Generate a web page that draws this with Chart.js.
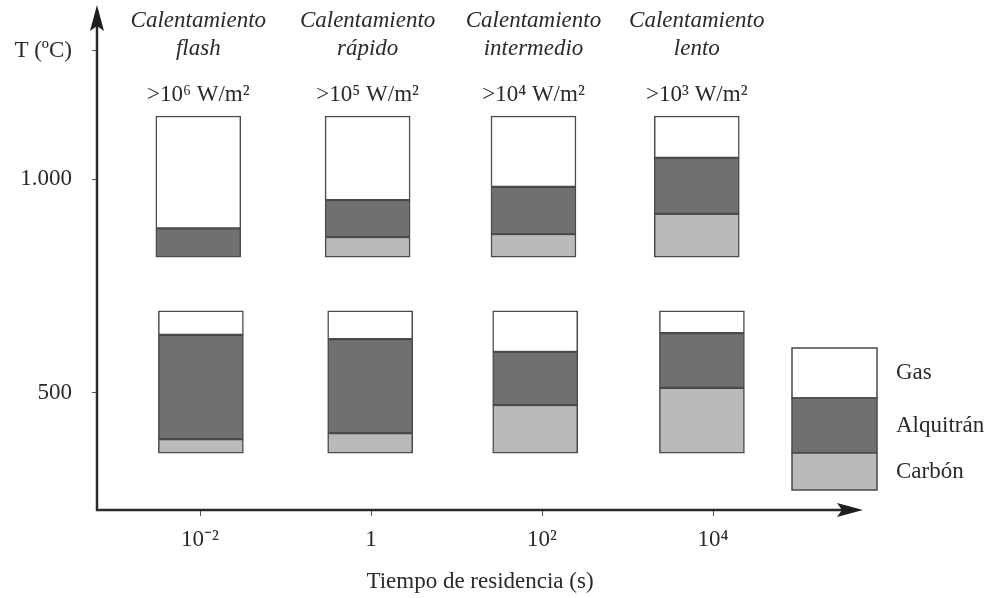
<!DOCTYPE html>
<html>
<head>
<meta charset="utf-8">
<script src="https://cdn.jsdelivr.net/npm/chart.js@4.4.1/dist/chart.umd.min.js"></script>
<style>
  html, body { margin: 0; padding: 0; background: #fff; }
  #wrap { width: 990px; height: 598px; }
</style>
</head>
<body>
<div id="wrap"><canvas id="grafico"></canvas></div>
<script>
// tipos de calentamiento (cabeceras de columna)
var tipos = ["flash", "rápido", "intermedio", "lento"];
var flujos = [">10⁶ W/m²", ">10⁵ W/m²", ">10⁴ W/m²", ">10³ W/m²"];

// eje x: log10 del tiempo de residencia (s)
var ticksX = [-2, 0, 2, 4];
var etiquetasX = ["10⁻²", "1", "10²", "10⁴"];
// eje y: temperatura
var ticksY = [500, 1000, 1300];
var etiquetasY = ["500", "1.000", "T (ºC)"];

// posición (log10 s) de cada columna
var posAlta = [-2.02, -0.04, 1.90, 3.81];
var posBaja = [-1.99, -0.01, 1.92, 3.87];

// límites en ºC de cada franja (base, tope carbón, tope alquitrán, tope gas)
var altaBase = [818, 818, 818, 818];
var altaCarbon = [818, 865, 872, 919];
var altaAlquitran = [885, 951, 982, 1050];
var altaGas = [1148, 1148, 1148, 1148];

var bajaBase = [359, 359, 359, 359];
var bajaCarbon = [392, 406, 472, 512];
var bajaAlquitran = [636, 626, 596, 640];
var bajaGas = [692, 692, 692, 692];

var colores = { gas: "#ffffff", alquitran: "#707070", carbon: "#bababa" };
var fuente = '"Liberation Serif", "Times New Roman", serif';
var texto = "#2a2a2a";

// arma los puntos flotantes [desde, hasta] de una franja
var franja = function(desdeA, hastaA, desdeB, hastaB) {
    var pts = [];
    for (var i = 0; i < posAlta.length; i++) pts.push({ x: posAlta[i], y: [desdeA[i], hastaA[i]] });
    for (var j = 0; j < posBaja.length; j++) pts.push({ x: posBaja[j], y: [desdeB[j], hastaB[j]] });
    return pts;
};

var estiloBarra = {
    grouped: false,
    barThickness: 85,
    borderWidth: 1.5,
    borderColor: "#4a4a4a",
    borderSkipped: false
};

var datos = {
    datasets: [
        Object.assign({ label: "Gas", backgroundColor: colores.gas,
            data: franja(altaAlquitran, altaGas, bajaAlquitran, bajaGas) }, estiloBarra),
        Object.assign({ label: "Alquitrán", backgroundColor: colores.alquitran,
            data: franja(altaCarbon, altaAlquitran, bajaCarbon, bajaAlquitran) }, estiloBarra),
        Object.assign({ label: "Carbón", backgroundColor: colores.carbon,
            data: franja(altaBase, altaCarbon, bajaBase, bajaCarbon) }, estiloBarra)
    ]
};

// ejes con flecha, cabeceras y leyenda en caja
var dibujoExtra = {
    id: "dibujoExtra",
    afterDraw: function(chart) {
        var ctx = chart.ctx, ca = chart.chartArea, sx = chart.scales.x;
        ctx.save();
        ctx.strokeStyle = "#2a2a2a";
        ctx.fillStyle = "#1e1e1e";
        ctx.lineWidth = 2.5;
        // eje y
        ctx.beginPath();
        ctx.moveTo(ca.left, ca.bottom + 1);
        ctx.lineTo(ca.left, 24);
        ctx.stroke();
        ctx.beginPath();
        ctx.moveTo(ca.left, 5);
        ctx.lineTo(ca.left - 7, 31);
        ctx.lineTo(ca.left, 26);
        ctx.lineTo(ca.left + 7, 31);
        ctx.closePath();
        ctx.fill();
        // eje x
        ctx.beginPath();
        ctx.moveTo(ca.left - 1, ca.bottom);
        ctx.lineTo(ca.right - 20, ca.bottom);
        ctx.stroke();
        ctx.beginPath();
        ctx.moveTo(ca.right, ca.bottom);
        ctx.lineTo(ca.right - 26, ca.bottom - 7);
        ctx.lineTo(ca.right - 21, ca.bottom);
        ctx.lineTo(ca.right - 26, ca.bottom + 7);
        ctx.closePath();
        ctx.fill();

        // cabeceras
        ctx.fillStyle = texto;
        ctx.textAlign = "center";
        ctx.textBaseline = "alphabetic";
        for (var i = 0; i < tipos.length; i++) {
            var cx = sx.getPixelForValue(posAlta[i]);
            ctx.font = "italic 23px " + fuente;
            ctx.fillText("Calentamiento", cx, 27);
            ctx.fillText(tipos[i], cx, 55);
            ctx.font = "23px " + fuente;
            ctx.fillText(flujos[i], cx, 101);
        }

        // leyenda
        var lx = 792, lw = 85;
        var filas = [
            { t: "Gas", c: colores.gas, y0: 348, y1: 398 },
            { t: "Alquitrán", c: colores.alquitran, y0: 398, y1: 453 },
            { t: "Carbón", c: colores.carbon, y0: 453, y1: 490 }
        ];
        ctx.lineWidth = 1.5;
        ctx.strokeStyle = "#4a4a4a";
        ctx.textAlign = "left";
        ctx.textBaseline = "middle";
        ctx.font = "23px " + fuente;
        filas.forEach(function(f) {
            ctx.fillStyle = f.c;
            ctx.fillRect(lx, f.y0, lw, f.y1 - f.y0);
            ctx.strokeRect(lx, f.y0, lw, f.y1 - f.y0);
            ctx.fillStyle = texto;
            ctx.fillText(f.t, 896, (f.y0 + f.y1) / 2);
        });
        ctx.restore();
    }
};

var grafico = new Chart(document.getElementById("grafico").getContext("2d"), {
    type: "bar",
    data: datos,
    options: {
        responsive: true,
        maintainAspectRatio: false,
        animation: false,
        layout: { padding: { top: 5, right: 127, left: 0, bottom: 0 } },
        plugins: { legend: { display: false }, tooltip: { enabled: false } },
        scales: {
            x: {
                type: "linear",
                min: -3.205,
                max: 5.754,
                offset: false,
                border: { display: false },
                grid: { offset: false, drawOnChartArea: false, drawTicks: true, tickLength: 6, color: "#555", lineWidth: 1 },
                afterBuildTicks: function(s) { s.ticks = ticksX.map(function(v) { return { value: v }; }); },
                afterFit: function(s) { s.height = 88; s.paddingLeft = 0; s.paddingRight = 0; },
                ticks: {
                    autoSkip: false, maxRotation: 0, padding: 10, color: texto,
                    font: { family: fuente, size: 23 },
                    callback: function(v, i) { return etiquetasX[i]; }
                },
                title: {
                    display: true, text: "Tiempo de residencia (s)", color: texto,
                    font: { family: fuente, size: 23 }, padding: { top: 0, bottom: 2 }
                }
            },
            y: {
                type: "linear",
                min: 226.3,
                max: 1407.6,
                border: { display: false },
                grid: { drawOnChartArea: false, drawTicks: true, tickLength: 5, color: "#555", lineWidth: 1 },
                afterBuildTicks: function(s) { s.ticks = ticksY.map(function(v) { return { value: v }; }); },
                afterFit: function(s) { s.width = 97; s.paddingTop = 0; s.paddingBottom = 0; },
                ticks: {
                    autoSkip: false, padding: 20, color: texto,
                    font: { family: fuente, size: 23 },
                    callback: function(v, i) { return etiquetasY[i]; }
                }
            }
        }
    },
    plugins: [dibujoExtra]
});
</script>
</body>
</html>
